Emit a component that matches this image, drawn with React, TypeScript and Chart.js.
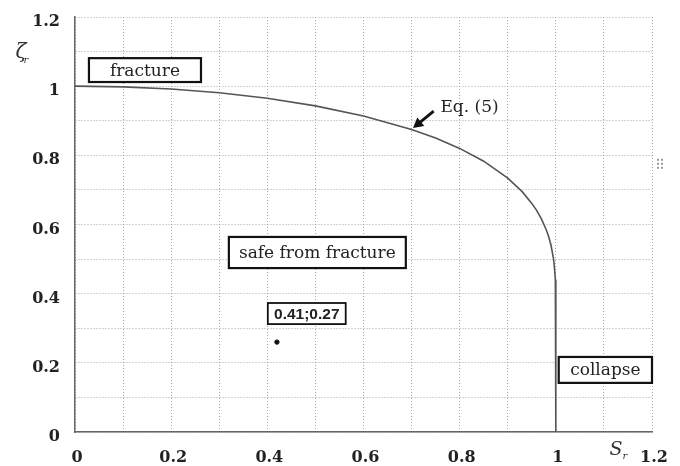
import React, { useEffect, useRef } from "react";
import { Chart, registerables } from "chart.js";

Chart.register(...registerables);

// Eq. (5) curve
const S_R = [0, 0.1, 0.2, 0.3, 0.4, 0.5, 0.6, 0.7, 0.75, 0.8, 0.85, 0.9, 0.93, 0.95, 0.96, 0.97, 0.98, 0.985, 0.99, 0.995, 0.997, 0.999, 1.0, 1.0];
const ZETA_R = [1.0, 0.998, 0.992, 0.981, 0.965, 0.943, 0.914, 0.875, 0.85, 0.82, 0.783, 0.734, 0.695, 0.661, 0.641, 0.616, 0.585, 0.565, 0.54, 0.502, 0.478, 0.44, 0.3, 0.0];

// assessed point
const POINT_S = [0.42];
const POINT_Z = [0.26];
const POINT_LABEL = "0.41;0.27";

const X_TICK_LABELS = ["0", "0.2", "0.4", "0.6", "0.8", "1", "1.2"];
const Y_TICK_LABELS = ["0", "0.2", "0.4", "0.6", "0.8", "1", "1.2"];

const SERIF = '"DejaVu Serif", "Liberation Serif", serif';

const annotPlugin = {
  id: "annot",
  afterDatasetsDraw(chart: any) {
    const { ctx, scales } = chart;
    const xs = scales.x;
    const ys = scales.y;
    const px = (v: number) => xs.getPixelForValue(v);
    const py = (v: number) => ys.getPixelForValue(v);
    ctx.save();

    const box = (x0: number, y0: number, x1: number, y1: number, lw: number, text: string, font: string) => {
      const l = px(x0), r = px(x1), t = py(y0), b = py(y1);
      ctx.fillStyle = "#fff";
      ctx.fillRect(l, t, r - l, b - t);
      ctx.lineWidth = lw;
      ctx.strokeStyle = "#111";
      ctx.strokeRect(l, t, r - l, b - t);
      ctx.fillStyle = "#222";
      ctx.font = font;
      ctx.textAlign = "center";
      ctx.textBaseline = "middle";
      ctx.fillText(text, (l + r) / 2, (t + b) / 2 + 1);
    };

    box(0.029, 1.081, 0.262, 1.012, 2.2, "fracture", `17px ${SERIF}`);
    box(0.32, 0.564, 0.688, 0.474, 2.2, "safe from fracture", `17px ${SERIF}`);
    box(0.401, 0.373, 0.563, 0.312, 1.8, POINT_LABEL, `bold 15.5px "Liberation Sans", Arial, sans-serif`);
    box(1.006, 0.217, 1.2, 0.142, 2.2, "collapse", `17px ${SERIF}`);

    // Eq. (5) label
    ctx.fillStyle = "#222";
    ctx.font = `17px ${SERIF}`;
    ctx.textAlign = "left";
    ctx.textBaseline = "alphabetic";
    ctx.fillText("Eq. (5)", px(0.76), py(0.925));

    // arrow
    const ax0 = px(0.746), ay0 = py(0.928);
    const ax1 = px(0.703), ay1 = py(0.879);
    const ang = Math.atan2(ay1 - ay0, ax1 - ax0);
    ctx.strokeStyle = "#111";
    ctx.lineWidth = 2.8;
    ctx.beginPath();
    ctx.moveTo(ax0, ay0);
    ctx.lineTo(ax1 - 7 * Math.cos(ang), ay1 - 7 * Math.sin(ang));
    ctx.stroke();
    ctx.fillStyle = "#111";
    ctx.beginPath();
    ctx.moveTo(ax1, ay1);
    ctx.lineTo(ax1 - 10 * Math.cos(ang) + 5.5 * Math.sin(ang), ay1 - 10 * Math.sin(ang) - 5.5 * Math.cos(ang));
    ctx.lineTo(ax1 - 10 * Math.cos(ang) - 5.5 * Math.sin(ang), ay1 - 10 * Math.sin(ang) + 5.5 * Math.cos(ang));
    ctx.closePath();
    ctx.fill();

    // axis titles
    ctx.fillStyle = "#333";
    ctx.font = `italic 20px ${SERIF}`;
    ctx.textAlign = "center";
    ctx.textBaseline = "alphabetic";
    ctx.fillText("ζ", 21, py(1.1) + 6);
    ctx.font = `italic 10px ${SERIF}`;
    ctx.fillText("r", 26, py(1.1) + 11);

    ctx.font = `italic 19px ${SERIF}`;
    ctx.fillText("S", px(1.125), 455);
    ctx.font = `italic 10px ${SERIF}`;
    ctx.fillText("r", px(1.125) + 9, 459);

    // small scan marks at right
    ctx.fillStyle = "#999";
    const mx = px(1.2) + 5, my = py(0.79);
    for (let i = 0; i < 2; i++) for (let j = 0; j < 3; j++) ctx.fillRect(mx + i * 4, my + j * 4, 2, 2);

    ctx.restore();
  },
};

export default function App() {
  const ref = useRef<HTMLCanvasElement | null>(null);

  useEffect(() => {
    document.body.style.margin = "0";
    const canvas = ref.current;
    if (!canvas) return;
    const tickCb = (labels: string[]) => (v: any) => {
      const i = Math.round(Number(v) * 10);
      return i % 2 === 0 ? labels[i / 2] : "";
    };
    const chart = new Chart(canvas, {
      type: "scatter",
      data: {
        datasets: [
          {
            label: "Eq. (5)",
            data: S_R.map((s, i) => ({ x: s, y: ZETA_R[i] })),
            showLine: true,
            borderColor: "#555",
            borderWidth: 1.6,
            pointRadius: 0,
            tension: 0,
          },
          {
            label: "point",
            data: POINT_S.map((s, i) => ({ x: s, y: POINT_Z[i] })),
            pointRadius: 2.2,
            pointBackgroundColor: "#111",
            pointBorderColor: "#111",
          },
        ],
      },
      options: {
        responsive: false,
        animation: false,
        devicePixelRatio: 1,
        layout: { padding: { top: 17, right: 28, left: 0, bottom: 0 } },
        plugins: { legend: { display: false }, tooltip: { enabled: false } },
        scales: {
          x: {
            type: "linear",
            min: 0,
            max: 1.2,
            afterFit: (s: any) => { s.height = 34; s.paddingRight = 0; s.paddingLeft = 0; },
            ticks: {
              stepSize: 0.1,
              autoSkip: false,
              maxRotation: 0,
              padding: 16,
              labelOffset: 2,
              color: "#222",
              font: { family: SERIF, weight: "bold", size: 16 },
              callback: tickCb(X_TICK_LABELS),
            },
            grid: { color: "#a8a8a8", lineWidth: 1, drawTicks: false },
            border: { display: true, color: "#666", width: 1.5, dash: [1, 2] },
          },
          y: {
            type: "linear",
            min: 0,
            max: 1.2,
            afterFit: (s: any) => { s.width = 75; s.paddingTop = 0; s.paddingBottom = 0; },
            ticks: {
              stepSize: 0.1,
              autoSkip: false,
              padding: 15,
              labelOffset: 5,
              color: "#222",
              font: { family: SERIF, weight: "bold", size: 16 },
              callback: tickCb(Y_TICK_LABELS),
            },
            grid: { color: "#a8a8a8", lineWidth: 1, drawTicks: false },
            border: { display: true, color: "#666", width: 1.5, dash: [1, 2] },
          },
        },
      } as any,
      plugins: [annotPlugin],
    });
    return () => chart.destroy();
  }, []);

  return <canvas ref={ref} width={680} height={466} style={{ display: "block", width: 680, height: 466 }} />;
}
